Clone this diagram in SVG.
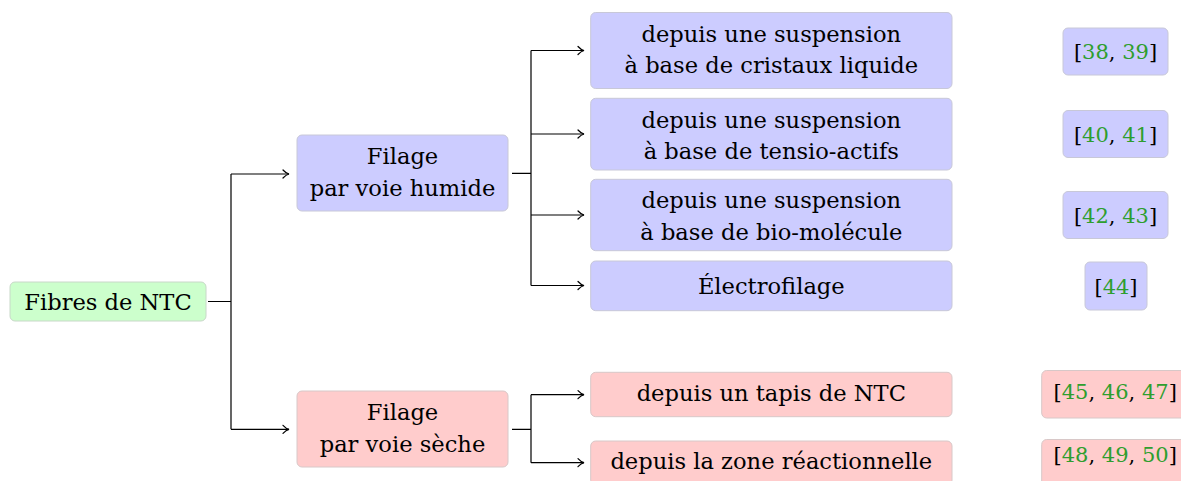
<svg xmlns="http://www.w3.org/2000/svg" width="1181" height="481" viewBox="0 0 1181 481">
<style>
  .t { font-family: 'DejaVu Serif', 'Liberation Serif', serif; font-size: 22.6px; fill: #000; text-anchor: middle; }
  .r { font-family: 'DejaVu Serif', 'Liberation Serif', serif; font-size: 21px; fill: #000; text-anchor: middle; }
  .g { fill: #2e9e2e; }
  .blue { fill: #ccccff; stroke: #c8c8d8; stroke-width: 1; }
  .red { fill: #ffcccc; stroke: #d8c8c8; stroke-width: 1; }
  .green { fill: #ccffcc; stroke: #c8d8c8; stroke-width: 1; }
  .c { fill: none; stroke: #000; stroke-width: 1.2; }
</style>
<defs>
  <marker id="arr" markerUnits="userSpaceOnUse" markerWidth="12" markerHeight="12" viewBox="-7 -6 8 12" refX="0" refY="0" orient="auto">
    <path d="M-6,-4 C-4,-1.8 -1.8,-0.4 0,0 C-1.8,0.4 -4,1.8 -6,4" fill="none" stroke="#000" stroke-width="1.2" stroke-linecap="round"/>
  </marker>
</defs>
<rect width="1181" height="481" fill="#fff"/>

<g id="connectors">
  <path class="c" d="M208,301.5 H231 M231,174 V429.3 M512,173.3 H531 M531,50.5 V285.5 M512,429.3 H531 M531,394.7 V462.7"/>
  <path class="c" d="M231,174 H289" marker-end="url(#arr)"/>
  <path class="c" d="M231,429.3 H289" marker-end="url(#arr)"/>
  <path class="c" d="M531,50.5 H584" marker-end="url(#arr)"/>
  <path class="c" d="M531,134 H584" marker-end="url(#arr)"/>
  <path class="c" d="M531,215 H584" marker-end="url(#arr)"/>
  <path class="c" d="M531,285.5 H584" marker-end="url(#arr)"/>
  <path class="c" d="M531,394.7 H584" marker-end="url(#arr)"/>
  <path class="c" d="M531,462.7 H584" marker-end="url(#arr)"/>
</g>

<g id="root">
  <rect class="green" x="10" y="282" width="196" height="39" rx="5"/>
  <text class="t" x="108" y="310">Fibres de NTC</text>
</g>

<g id="wet">
  <rect class="blue" x="297" y="135" width="211" height="76" rx="5"/>
  <text class="t" x="402.5" y="163.5">Filage</text>
  <text class="t" x="402.5" y="195.5">par voie humide</text>
</g>

<g id="dry">
  <rect class="red" x="297" y="391" width="211" height="76" rx="5"/>
  <text class="t" x="402.5" y="419.5">Filage</text>
  <text class="t" x="402.5" y="451.5">par voie sèche</text>
</g>

<g id="wet1">
  <rect class="blue" x="590.7" y="12.5" width="361.3" height="76" rx="5"/>
  <text class="t" x="771.3" y="41.5">depuis une suspension</text>
  <text class="t" x="771.3" y="72.5">à base de cristaux liquide</text>
</g>
<g id="wet2">
  <rect class="blue" x="590.7" y="98.3" width="361.3" height="71.7" rx="5"/>
  <text class="t" x="771.3" y="127.5">depuis une suspension</text>
  <text class="t" x="771.3" y="158.8">à base de tensio-actifs</text>
</g>
<g id="wet3">
  <rect class="blue" x="590.7" y="179.3" width="361.3" height="71.4" rx="5"/>
  <text class="t" x="771.3" y="208.2">depuis une suspension</text>
  <text class="t" x="771.3" y="239.8">à base de bio-molécule</text>
</g>
<g id="wet4">
  <rect class="blue" x="590.7" y="261" width="361.3" height="49.7" rx="5"/>
  <text class="t" x="771.3" y="293.8">Électrofilage</text>
</g>
<g id="dry1">
  <rect class="red" x="590.7" y="372.3" width="361.3" height="44.4" rx="5"/>
  <text class="t" x="771.3" y="400.5">depuis un tapis de NTC</text>
</g>
<g id="dry2">
  <rect class="red" x="590.7" y="441" width="361.3" height="44.4" rx="5"/>
  <text class="t" x="771.3" y="468.8">depuis la zone réactionnelle</text>
</g>

<g id="ref1">
  <rect class="blue" x="1063" y="28" width="105" height="47" rx="5"/>
  <text class="r" x="1115.5" y="58.5">[<tspan class="g">38</tspan>, <tspan class="g">39</tspan>]</text>
</g>
<g id="ref2">
  <rect class="blue" x="1063" y="110.5" width="105" height="47" rx="5"/>
  <text class="r" x="1115.5" y="141.5">[<tspan class="g">40</tspan>, <tspan class="g">41</tspan>]</text>
</g>
<g id="ref3">
  <rect class="blue" x="1063" y="191.5" width="105" height="47" rx="5"/>
  <text class="r" x="1115.5" y="222.5">[<tspan class="g">42</tspan>, <tspan class="g">43</tspan>]</text>
</g>
<g id="ref4">
  <rect class="blue" x="1085" y="262" width="62" height="48" rx="5"/>
  <text class="r" x="1116" y="294">[<tspan class="g">44</tspan>]</text>
</g>
<g id="ref5">
  <rect class="red" x="1041.7" y="370.5" width="147" height="47.5" rx="5"/>
  <text class="r" x="1115.2" y="399">[<tspan class="g">45</tspan>, <tspan class="g">46</tspan>, <tspan class="g">47</tspan>]</text>
</g>
<g id="ref6">
  <rect class="red" x="1041.7" y="439.5" width="147" height="47.5" rx="5"/>
  <text class="r" x="1115.2" y="462">[<tspan class="g">48</tspan>, <tspan class="g">49</tspan>, <tspan class="g">50</tspan>]</text>
</g>
</svg>
